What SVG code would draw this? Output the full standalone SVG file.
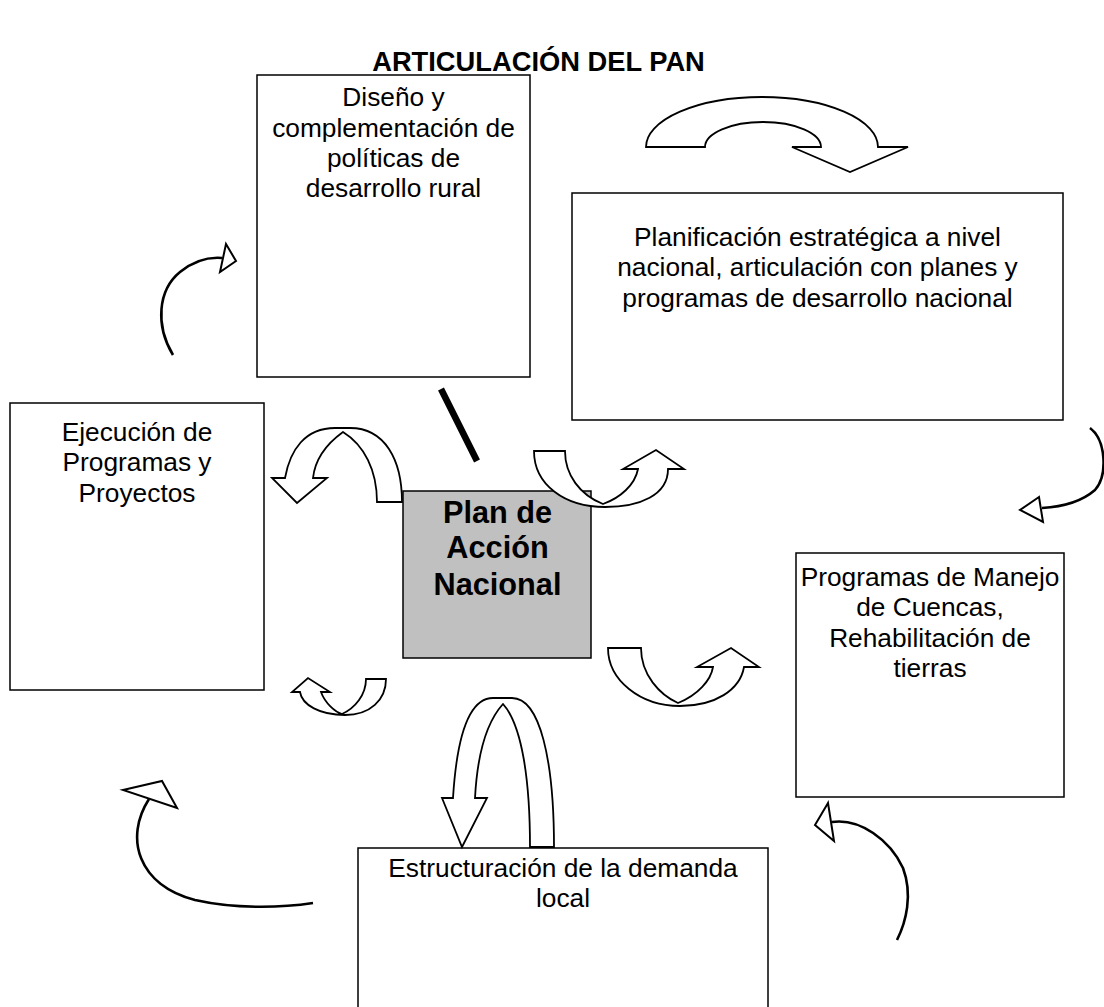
<svg xmlns="http://www.w3.org/2000/svg" width="1104" height="1007" viewBox="0 0 1104 1007">
<style>
.box{fill:#ffffff;stroke:#000000;stroke-width:1.5}
.plan{fill:#c0c0c0;stroke:#000000;stroke-width:1.5}
.t{font-family:"Liberation Sans",Arial,sans-serif;font-size:26.3px;fill:#000000;text-anchor:middle}
.b{font-family:"Liberation Sans",Arial,sans-serif;font-weight:bold;fill:#000000;text-anchor:middle}
.blk{fill:#ffffff;stroke:#000000;stroke-width:1.8;stroke-linejoin:miter}
.arc{fill:none;stroke:#000000;stroke-width:2.6}
.tri{fill:#ffffff;stroke:#000000;stroke-width:2}
</style>
<rect width="1104" height="1007" fill="#ffffff"/>
<text class="b" x="538.5" y="71" font-size="27.3">ARTICULACIÓN DEL PAN</text>

<g id="diseno">
<rect class="box" x="257" y="75" width="273" height="302"/>
<text class="t" x="393.5" y="106">Diseño y</text>
<text class="t" x="393.5" y="136.5">complementación de</text>
<text class="t" x="393.5" y="166.5">políticas de</text>
<text class="t" x="393.5" y="197">desarrollo rural</text>
</g>

<g id="planificacion">
<rect class="box" x="572" y="193" width="491" height="227"/>
<text class="t" x="817.5" y="246">Planificación estratégica a nivel</text>
<text class="t" x="817.5" y="276">nacional, articulación con planes y</text>
<text class="t" x="817.5" y="306.5">programas de desarrollo nacional</text>
</g>

<g id="ejecucion">
<rect class="box" x="10" y="403" width="254" height="287"/>
<text class="t" x="137" y="441">Ejecución de</text>
<text class="t" x="137" y="471">Programas y</text>
<text class="t" x="137" y="501.5">Proyectos</text>
</g>

<g id="programas">
<rect class="box" x="796" y="553" width="268" height="244"/>
<text class="t" x="930" y="586">Programas de Manejo</text>
<text class="t" x="930" y="616">de Cuencas,</text>
<text class="t" x="930" y="646.5">Rehabilitación de</text>
<text class="t" x="930" y="677">tierras</text>
</g>

<g id="estructuracion">
<rect class="box" x="358" y="848" width="410" height="170"/>
<text class="t" x="563" y="877">Estructuración de la demanda</text>
<text class="t" x="563" y="907">local</text>
</g>

<g id="plan">
<rect class="plan" x="403" y="491" width="188" height="167"/>
<text class="b" x="497.5" y="522.7" font-size="30.7">Plan de</text>
<text class="b" x="497.5" y="558.3" font-size="30.7">Acción</text>
<text class="b" x="497.5" y="595" font-size="30.7">Nacional</text>
</g>

<g id="connectors">
<line x1="441" y1="389" x2="477" y2="461" stroke="#000000" stroke-width="6.5"/>
<path class="blk" d="M646,147 L705,147 A58,25 0 0 1 821,147 L792,147 L850,172 L908,147 L878,147 A116,50 0 0 0 646,147 Z"/>
<path class="blk" d="M402,502 L377,502 C377,470 364,445 343,432 C325,445 315,460 313,478 L327,478 L297,503 L272,478 L285,478 C290,450 305,428 335,428 L350,428 C385,428 402,460 402,502 Z"/>
<path class="blk" d="M534,451 L565,451 C565,475 580,495 603,504 C620,498 635,485 638,469 L623,469 L656,450 L684,469 L668,469 C668,495 640,507 605,507 C565,507 534,485 534,451 Z"/>
<path class="blk" d="M366,679 L386,679 C386,700 370,715 345,715 C320,715 302,705 300,692 L292,692 L308,678 L330,692 L321,692 C325,703 335,712 342,714 C355,708 366,695 366,679 Z"/>
<path class="blk" d="M608,648 L641,648 C641,675 660,695 678,703 C698,695 711,680 713,667 L697,667 L731,648 L759,667 L744,667 C740,690 715,706 680,706 C640,706 608,680 608,648 Z"/>
<path class="blk" d="M554,847 L530,847 C530,780 522,725 503,704 C484,725 477,760 475,798 L487,798 L462,847 L442,798 L453,798 C456,750 465,698 493,698 L512,698 C540,698 554,760 554,847 Z"/>
<path class="arc" d="M173,355 C155,325 158,290 180,272 C195,260 210,257 222,258"/>
<polygon class="tri" points="226,244 236,261 220,272"/>
<path class="arc" d="M1090,428 C1106,440 1108,475 1095,490 C1080,503 1060,507 1042,508"/>
<polygon class="tri" points="1039,497 1020,510 1043,522"/>
<path class="arc" d="M149,799 C124,838 138,885 195,900 C235,909 280,908 313,903"/>
<polygon class="tri" points="123,790 162,781 177,808"/>
<path class="arc" d="M832,822 C860,818 890,840 903,868 C913,895 906,922 897,940"/>
<polygon class="tri" points="828,803 815,825 834,841"/>
</g>
</svg>
